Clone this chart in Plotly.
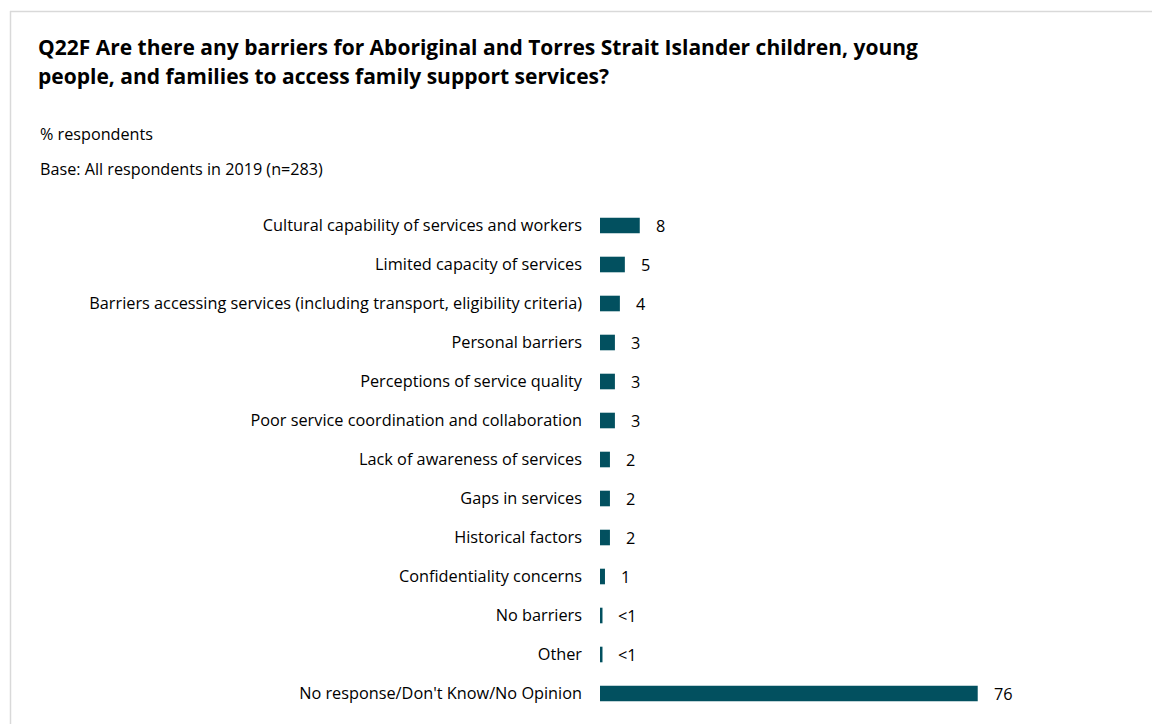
import plotly.graph_objects as go

categories = [
    "Cultural capability of services and workers",
    "Limited capacity of services",
    "Barriers accessing services (including transport, eligibility criteria)",
    "Personal barriers",
    "Perceptions of service quality",
    "Poor service coordination and collaboration",
    "Lack of awareness of services",
    "Gaps in services",
    "Historical factors",
    "Confidentiality concerns",
    "No barriers",
    "Other",
    "No response/Don't Know/No Opinion",
]
values = [8, 5, 4, 3, 3, 3, 2, 2, 2, 1, 0.5, 0.5, 76]
value_labels = ["8", "5", "4", "3", "3", "3", "2", "2", "2", "1", "<1", "<1", "76"]

title_lines = [
    "Q22F Are there any barriers for Aboriginal and Torres Strait Islander children, young",
    "people, and families to access family support services?",
]
subtitle = "% respondents"
base_note = "Base: All respondents in 2019 (n=283)"

BAR = "#02505F"
FONT = "Open Sans"
LABEL_SIZE = 16.3
W, H = 1152, 724
ML, MR, MT, MB = 600, 55, 205.5, 10.5
PW, PH = W - ML - MR, H - MT - MB


def px_x(x):
    return (x - ML) / PW


def px_y(y):
    return 1 - (y - MT) / PH


fig = go.Figure(
    go.Bar(
        x=values,
        y=categories,
        orientation="h",
        marker=dict(color=BAR, line=dict(width=0)),
        width=0.4,
        hoverinfo="skip",
    )
)

for cat, v, lab in zip(categories, values, value_labels):
    fig.add_annotation(
        x=v, y=cat, text=lab, showarrow=False,
        xanchor="left", xshift=14,
        font=dict(family=FONT, size=LABEL_SIZE, color="#000000"),
    )

for i, line in enumerate(title_lines):
    fig.add_annotation(
        x=px_x(35.5), y=px_y(46 + 29 * i), xref="paper", yref="paper",
        text="<b>" + line + "</b>", showarrow=False,
        xanchor="left", yanchor="middle",
        font=dict(family=FONT, size=21, color="#000000"),
    )

for y, t in [(133, subtitle), (168, base_note)]:
    fig.add_annotation(
        x=px_x(37.5), y=px_y(y), xref="paper", yref="paper",
        text=t, showarrow=False, xanchor="left", yanchor="middle",
        font=dict(family=FONT, size=16.2, color="#000000"),
    )

# light frame along the top and left edges
border = dict(color="#D9D9D9", width=1.5)
fig.add_shape(type="line", xref="paper", yref="paper",
              x0=px_x(10), x1=px_x(W + 5), y0=px_y(10.5), y1=px_y(10.5), line=border)
fig.add_shape(type="line", xref="paper", yref="paper",
              x0=px_x(10.5), x1=px_x(10.5), y0=px_y(10), y1=px_y(H + 5), line=border)

fig.update_layout(
    width=W, height=H,
    margin=dict(l=ML, r=MR, t=MT, b=MB, autoexpand=False),
    paper_bgcolor="white", plot_bgcolor="white",
    showlegend=False,
    font=dict(family=FONT, size=LABEL_SIZE, color="#000000"),
    xaxis=dict(range=[0, 100], visible=False, fixedrange=True),
    yaxis=dict(
        autorange="reversed", showgrid=False, zeroline=False, showline=False,
        ticks="", ticklabelstandoff=17, tickfont=dict(family=FONT, size=LABEL_SIZE),
        fixedrange=True,
    ),
)

fig.write_html("out.html", config={"displayModeBar": False})
